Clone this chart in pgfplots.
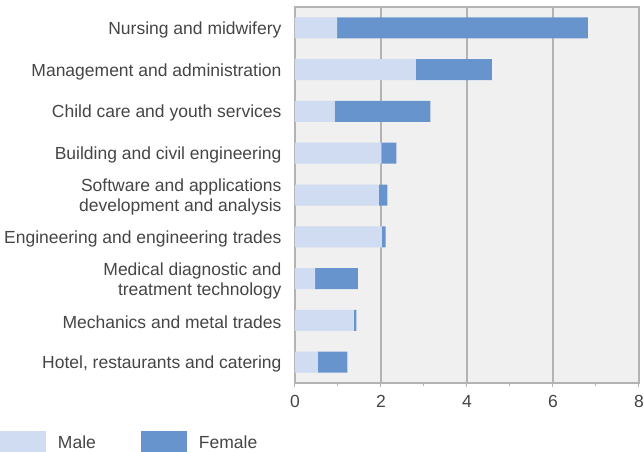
\documentclass[border=0pt]{standalone}
\usepackage{fontspec}
\setmainfont{Liberation Sans}
\usepackage{pgfplots}
\pgfplotsset{compat=1.18}
\definecolor{male}{HTML}{CFDCF2}
\definecolor{female}{HTML}{6894CE}
\definecolor{bg}{HTML}{F0F0F0}
\definecolor{gridc}{HTML}{B3B3B3}
\definecolor{txt}{HTML}{454545}
\newcommand{\lblfont}{\fontsize{17.5}{20}\selectfont}
\begin{document}
\begin{tikzpicture}
\begin{axis}[
  name=ax, at={(0,0)}, anchor=south west,
  scale only axis, width=344pt, height=376pt,
  xbar stacked, bar width=21pt,
  xmin=0, xmax=8, ymin=-0.5, ymax=8.5, y dir=reverse,
  xtick={0,2,4,6,8}, minor xtick={1,3,5,7},
  xtick pos=lower,
  ytick={0,...,8},
  yticklabels={Nursing and midwifery, Management and administration, Child care and youth services, Building and civil engineering, {Software and applications\\development and analysis}, Engineering and engineering trades, {Medical diagnostic and\\treatment technology}, Mechanics and metal trades, {Hotel, restaurants and catering}},
  axis background/.style={fill=bg},
  axis line style={gridc, line width=1.2pt},
  xmajorgrids, major grid style={gridc, line width=1.2pt},
  tick align=outside, x tick style={gridc, line width=1pt},
  major tick length=4pt, minor tick length=3pt,
  y tick style={draw=none},
  /pgf/number format/assume math mode=true,
  tick label style={font=\lblfont, text=txt},
  yticklabel style={align=right, xshift=-6pt, yshift=-2pt},
  xticklabel style={yshift=-5pt},
  legend columns=2,
  legend style={draw=none, fill=none, at={(-0.8576,-0.1277)}, anchor=north west,
    inner sep=0pt, outer sep=0pt, font=\lblfont, text=txt,
    nodes={inner sep=0pt},
    /tikz/every odd column/.append style={column sep=12pt},
    /tikz/every even column/.append style={column sep=45pt}},
  legend cell align=left,
  legend image code/.code={\fill[#1,draw=none] (0pt,-12pt) rectangle (46pt,12pt);},
]
\addplot[fill=male, draw=none] coordinates {(0.98,0) (2.81,1) (0.92,2) (2.01,3) (1.95,4) (2.02,5) (0.47,6) (1.37,7) (0.53,8)};
\addplot[fill=female, draw=none] coordinates {(5.83,0) (1.77,1) (2.23,2) (0.35,3) (0.20,4) (0.09,5) (0.99,6) (0.06,7) (0.69,8)};
\legend{Male, Female}
\end{axis}
\pgfresetboundingbox
\path[use as bounding box] (-295pt,-68pt) rectangle (349pt,383pt);
\end{tikzpicture}
\end{document}
